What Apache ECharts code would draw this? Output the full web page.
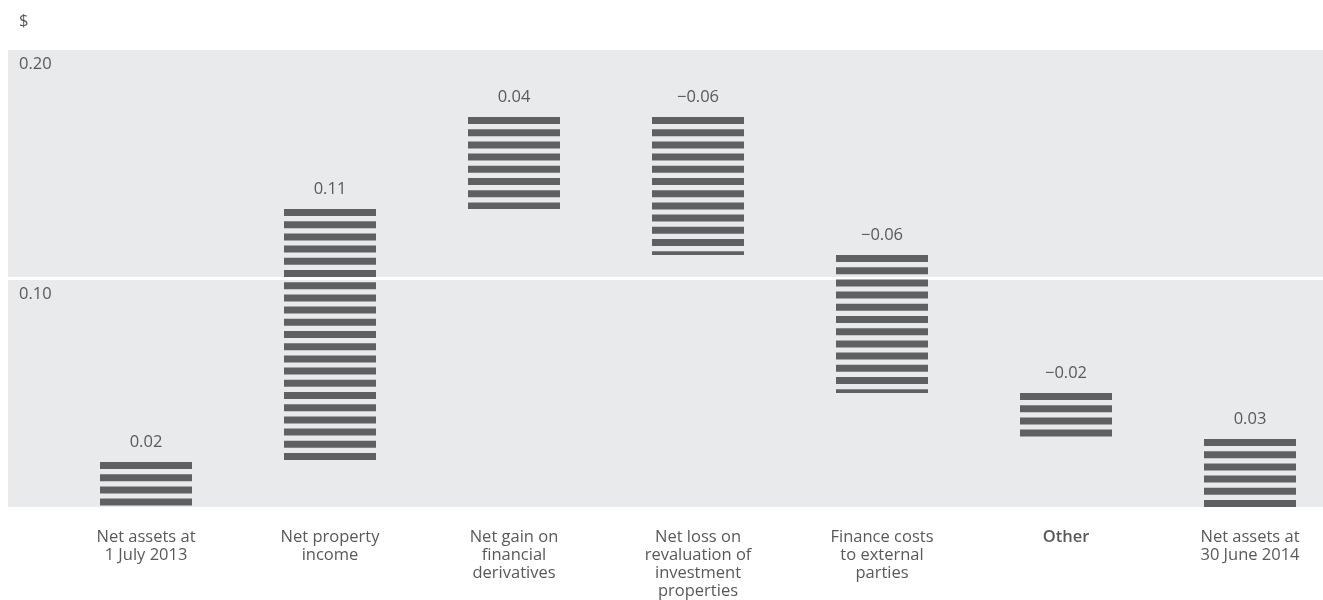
<!DOCTYPE html>
<html>
<head>
<meta charset="utf-8">
<script src="https://cdn.jsdelivr.net/npm/echarts@6/dist/echarts.min.js"></script>
<style>
  html, body { margin: 0; padding: 0; background: #ffffff; }
  #chart { width: 1323px; height: 600px; }
</style>
</head>
<body>
<div id="chart"></div>
<script>
// Movement in net tangible assets per unit, FY2014 ($)
const categories = [
  'Net assets at\n1 July 2013',
  'Net property\nincome',
  'Net gain on\nfinancial\nderivatives',
  'Net loss on\nrevaluation of\ninvestment\nproperties',
  'Finance costs\nto external\nparties',
  'Other',
  'Net assets at\n30 June 2014'
];
// 'total' bars stand on zero, 'delta' bars float on the running total
const barKinds = ['total', 'delta', 'delta', 'delta', 'delta', 'delta', 'total'];
const barValues = [0.02, 0.11, 0.04, -0.06, -0.06, -0.02, 0.03];
const yTicks = [0, 0.10, 0.20];

const TEXT = '#58595b';
const BAR = '#5f6062';
const FONT = '"Open Sans", "Noto Sans", sans-serif';
const FS = 16.5;

function fmt(v) {
  const s = Math.abs(v).toFixed(2);
  return v < 0 ? '\u2212' + s : s;
}

// Waterfall extents: [index, low, high, value]
let running = 0;
const bars = barValues.map((v, i) => {
  let low, high;
  if (barKinds[i] === 'total') {
    low = 0; high = v; running = v;
  } else {
    const next = +(running + v).toFixed(4);
    low = Math.min(running, next); high = Math.max(running, next);
    running = next;
  }
  return [i, low, high, v];
});

// Each bar is a stack of horizontal stripes hung from its top edge
const STRIPE_H = 7;
const STRIPE_STEP = 12.2;

function renderStriped(params, api) {
  const idx = api.value(0);
  const top = api.coord([idx, api.value(2)]);
  const bottom = api.coord([idx, api.value(1)]);
  const w = api.size([1, 0])[0] * 0.5;
  const x = top[0] - w / 2;
  const children = [];
  for (let y = top[1]; y < bottom[1] - 0.5; y += STRIPE_STEP) {
    const h = Math.min(STRIPE_H, bottom[1] - y);
    children.push({
      type: 'rect',
      shape: { x: x, y: y, width: w, height: h },
      style: { fill: BAR }
    });
  }
  children.push({
    type: 'text',
    style: {
      text: fmt(api.value(3)),
      x: top[0],
      y: top[1] - 20,
      align: 'center',
      verticalAlign: 'middle',
      fill: TEXT,
      font: FS + 'px ' + FONT
    }
  });
  return { type: 'group', children: children };
}

const chart = echarts.init(document.getElementById('chart'), null, { renderer: 'canvas' });

chart.setOption({
  animation: false,
  textStyle: { fontFamily: FONT },
  title: {
    text: '$',
    left: 14,
    top: 8,
    textStyle: { color: TEXT, fontSize: FS, fontWeight: 'normal', fontFamily: FONT }
  },
  grid: [
    // Shaded panel carrying the value scale
    { left: 8, right: 0, top: 48, bottom: 92, show: true, backgroundColor: '#e9eaec', borderWidth: 0 },
    // Category band for the bars (runs past the right edge so the bands stay 184px wide)
    { left: 54, width: 1288, top: 48, bottom: 92, outerBoundsMode: 'none' }
  ],
  xAxis: [
    { gridIndex: 0, type: 'value', show: false, min: 0, max: 1 },
    {
      gridIndex: 1,
      type: 'category',
      data: categories,
      axisLine: { show: false },
      axisTick: { show: false },
      axisLabel: {
        interval: 0,
        margin: 20,
        color: TEXT,
        fontSize: FS,
        lineHeight: 18,
        fontFamily: FONT,
        formatter: function (v) {
          return v === 'Other' ? '{b|' + v + '}' : v;
        },
        rich: { b: { fontWeight: 600, fontSize: FS, color: TEXT, fontFamily: FONT } }
      }
    }
  ],
  yAxis: [
    {
      gridIndex: 0,
      type: 'value',
      min: yTicks[0],
      max: yTicks[yTicks.length - 1],
      interval: yTicks[1] - yTicks[0],
      axisLine: { show: false },
      axisTick: { show: false },
      splitLine: { show: true, lineStyle: { color: '#ffffff', width: 3 } },
      axisLabel: {
        inside: true,
        margin: 11,
        align: 'left',
        verticalAlign: 'top',
        padding: [8, 0, 0, 0],
        color: TEXT,
        fontSize: FS,
        fontFamily: FONT,
        formatter: function (v) { return v === 0 ? '' : v.toFixed(2); }
      }
    },
    {
      gridIndex: 1,
      type: 'value',
      min: yTicks[0],
      max: yTicks[yTicks.length - 1],
      interval: yTicks[1] - yTicks[0],
      show: false,
      splitLine: { show: false }
    }
  ],
  series: [
    {
      type: 'custom',
      xAxisIndex: 1,
      yAxisIndex: 1,
      renderItem: renderStriped,
      encode: { x: 0, y: [1, 2] },
      data: bars,
      clip: false
    }
  ]
});
</script>
</body>
</html>
